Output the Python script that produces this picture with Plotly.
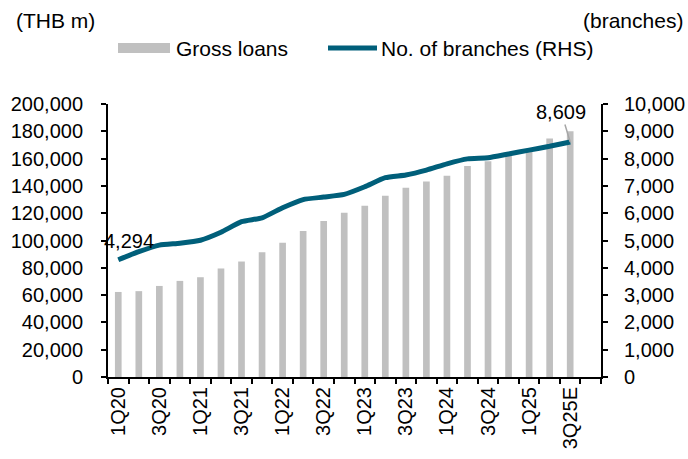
import plotly.graph_objects as go

# ---- data ----
quarters = ["1Q20", "2Q20", "3Q20", "4Q20", "1Q21", "2Q21", "3Q21", "4Q21",
            "1Q22", "2Q22", "3Q22", "4Q22", "1Q23", "2Q23", "3Q23", "4Q23",
            "1Q24", "2Q24", "3Q24", "4Q24", "1Q25", "2Q25", "3Q25E", "4Q25E"]
gross_loans = [62300, 62900, 66700, 70400, 73100, 79500, 84600, 91400,
               98300, 106900, 114200, 120300, 125400, 132700, 138600, 143300,
               147400, 154500, 158000, 162000, 166000, 174800, 180000, None]
branches = [4294, 4590, 4830, 4900, 5010, 5300, 5690, 5830,
            6200, 6500, 6590, 6690, 6970, 7300, 7400, 7580,
            7810, 7990, 8030, 8170, 8310, 8450, 8609, None]
tick_labels = [q if i % 2 == 0 else "" for i, q in enumerate(quarters)]

GREY = "#C0C0C0"
TEAL = "#005F7A"
FONT = "Liberation Sans, Arial, sans-serif"

W, H = 688, 459
L, R, T, B = 108, 87, 104, 82
PW, PH = W - L - R, H - T - B


def px(x):
    return (x - L) / PW


def py(y):
    return (H - B - y) / PH


fig = go.Figure()
fig.add_trace(go.Bar(x=quarters, y=gross_loans, name="Gross loans",
                     marker=dict(color=GREY, line=dict(width=0)),
                     yaxis="y", showlegend=False))
fig.add_trace(go.Scatter(x=quarters, y=branches, name="No. of branches (RHS)",
                         mode="lines", line=dict(color=TEAL, width=5, shape="spline", smoothing=0.5),
                         yaxis="y2", showlegend=False, connectgaps=False))

axis_common = dict(showline=True, linecolor="black", linewidth=2, ticks="outside",
                   ticklen=5, tickwidth=2, tickcolor="black", showgrid=False,
                   zeroline=False, automargin=False,
                   tickfont=dict(family=FONT, size=20, color="black"))

fig.update_layout(
    width=W, height=H,
    margin=dict(l=L, r=R, t=T, b=B, pad=0, autoexpand=False),
    paper_bgcolor="white", plot_bgcolor="white",
    font=dict(family=FONT, size=20, color="black"),
    bargap=0.675,
    showlegend=False,
    xaxis=dict(type="category", categoryorder="array", categoryarray=quarters,
               range=[-0.5, len(quarters) - 0.5], tickmode="array",
               tickvals=quarters, ticktext=tick_labels, tickangle=-90,
               tickson="boundaries", **axis_common),
    yaxis=dict(range=[0, 200000], dtick=20000, tickformat=",",
               ticklabelstandoff=14, **axis_common),
    yaxis2=dict(range=[0, 10000], dtick=1000, tickformat=",", overlaying="y",
                side="right", ticklabelstandoff=12, **axis_common),
)

# axis unit titles
fig.add_annotation(text="(THB m)", xref="paper", yref="paper", x=px(14), y=py(20),
                   xanchor="left", yanchor="middle", showarrow=False, font=dict(size=21))
fig.add_annotation(text="(branches)", xref="paper", yref="paper", x=px(685), y=py(20),
                   xanchor="right", yanchor="middle", showarrow=False, font=dict(size=21))

# custom legend
fig.add_shape(type="rect", xref="paper", yref="paper", x0=px(118), x1=px(170),
              y0=py(53), y1=py(43), fillcolor=GREY, line=dict(width=0))
fig.add_annotation(text="Gross loans", xref="paper", yref="paper", x=px(174), y=py(48),
                   xanchor="left", yanchor="middle", showarrow=False, font=dict(size=21))
fig.add_shape(type="line", xref="paper", yref="paper", x0=px(328), x1=px(377),
              y0=py(48), y1=py(48), line=dict(color=TEAL, width=5))
fig.add_annotation(text="No. of branches (RHS)", xref="paper", yref="paper", x=px(379), y=py(48),
                   xanchor="left", yanchor="middle", showarrow=False, font=dict(size=21))

# data labels
fig.add_annotation(text=f"{branches[0]:,}", x=quarters[0], y=branches[0], xref="x", yref="y2",
                   showarrow=False, xshift=11, yshift=19, font=dict(size=20))
fig.add_annotation(text=f"{branches[22]:,}", x=quarters[22], y=branches[22], xref="x", yref="y2",
                   showarrow=True, arrowhead=0, arrowwidth=1.5, arrowcolor="#A6A6A6",
                   ax=-9, ay=-30, font=dict(size=20))

fig.write_html("out.html", config={"displayModeBar": False},
               post_script="document.body.style.margin='0';document.body.style.overflow='hidden';")
